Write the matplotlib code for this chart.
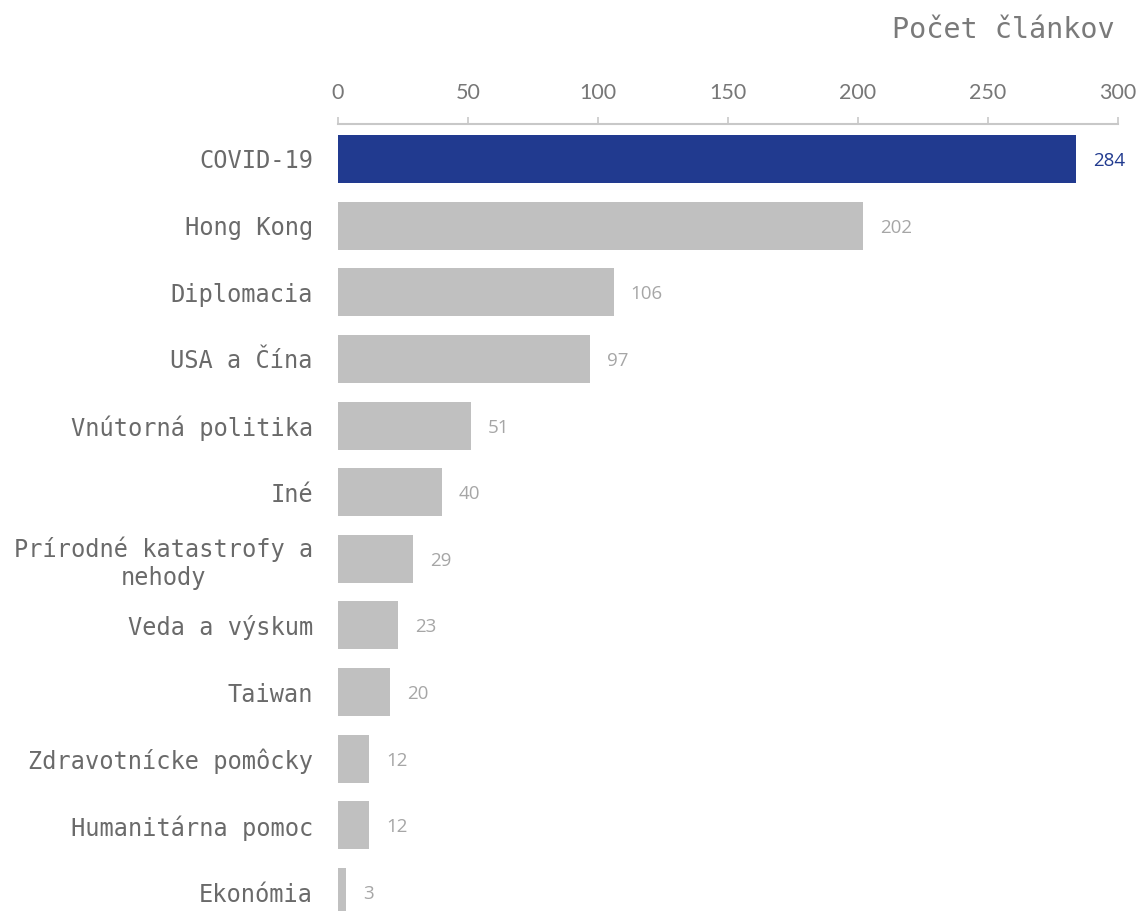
import matplotlib.pyplot as plt
import numpy as np

categories = ["COVID-19", "Hong Kong", "Diplomacia", "USA a Čína", "Vnútorná politika",
              "Iné", "Prírodné katastrofy a\nnehody", "Veda a výskum", "Taiwan",
              "Zdravotnícke pomôcky", "Humanitárna pomoc", "Ekonómia"]
values = [284, 202, 106, 97, 51, 40, 29, 23, 20, 12, 12, 3]
xticks = [0, 50, 100, 150, 200, 250, 300]

blue = "#213a8f"
grey = "#c0c0c0"

fig = plt.figure(figsize=(11.45, 9.11), dpi=100)
ax = fig.add_axes([338 / 1145, 0, 780 / 1145, 1 - 124 / 911])

y = np.arange(len(categories))
colors = [blue] + [grey] * (len(values) - 1)
ax.barh(y, values, height=0.72, color=colors, clip_on=True)

for i, v in enumerate(values):
    ax.text(v + 6.5, i + 0.03, str(v), va="center", ha="left", fontsize=13.5,
            family="Open Sans", color=blue if i == 0 else "#a6a6a6")

ax.set_xlim(0, 300)
ax.set_ylim(11.285, -0.525)
ax.set_yticks(y)
ax.set_yticklabels(categories, family="DejaVu Sans Mono", fontsize=17, color="#6a6a6a")
for lab in ax.get_yticklabels():
    lab.set_multialignment("center")
ax.tick_params(axis="y", length=0, pad=18)

ax.xaxis.tick_top()
ax.set_xticks(xticks)
ax.set_xticklabels([str(t) for t in xticks], family="Lato", fontsize=15.5,
                   color="#777777")
ax.tick_params(axis="x", direction="out", length=5, width=1.2, color="#c8c8c8", pad=10)

for s in ["left", "right", "bottom"]:
    ax.spines[s].set_visible(False)
ax.spines["top"].set_color("#c8c8c8")
ax.spines["top"].set_linewidth(1.5)

fig.text(1115 / 1145, 1 - 30 / 911, "Počet článkov", ha="right", va="center",
         family="DejaVu Sans Mono", fontsize=20.5, color="#7a7a7a")

fig.savefig("out.png", dpi=100)
